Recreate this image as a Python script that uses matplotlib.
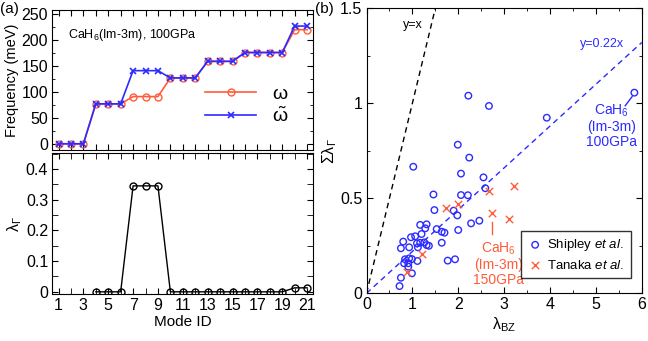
import matplotlib
matplotlib.use("Agg")
import matplotlib.pyplot as plt
from matplotlib.ticker import MultipleLocator, FixedLocator, NullFormatter

plt.rcParams['font.family'] = ['Liberation Sans', 'DejaVu Sans']
plt.rcParams['mathtext.fontset'] = 'custom'
plt.rcParams['mathtext.rm'] = 'Liberation Sans'
plt.rcParams['mathtext.it'] = 'Liberation Sans:italic'
plt.rcParams['mathtext.default'] = 'rm'

RED = '#ff5c3a'
BLUE = '#2b2bff'

# panel (a)
mode_id = list(range(1, 22))
omega = [0, 0, 0, 77, 77, 77, 91, 91, 91, 127, 127, 127, 159, 159, 159, 176, 176, 176, 176, 220, 220]
omega_t = [0, 0, 0, 77, 77, 77, 141, 141, 141, 127, 127, 127, 159, 159, 159, 176, 176, 176, 176, 227, 227]
lam_mode = list(range(4, 22))
lam_gamma = [0, 0, 0, 0.345, 0.345, 0.345, 0, 0, 0, 0, 0, 0, 0, 0, 0, 0, 0.013, 0.013]

# panel (b)
shipley_x = [1.02, 2.06, 2.55, 1.46, 2.06, 2.21, 2.59, 1.48, 1.90, 1.98,
             1.17, 1.31, 1.28, 1.53, 1.64, 1.70, 2.00, 2.28, 2.46, 1.20,
             1.06, 0.97, 0.80, 1.17, 1.10, 1.26, 1.31, 1.36, 1.64, 0.75,
             0.93, 1.12, 0.84, 0.93, 0.99, 1.11, 0.82, 0.91, 0.91, 0.99,
             0.75, 0.72, 1.77, 1.93, 2.22, 2.67, 3.93, 5.84, 1.99, 2.24]
shipley_y = [0.666, 0.630, 0.610, 0.520, 0.517, 0.516, 0.553, 0.438, 0.435, 0.410,
             0.360, 0.363, 0.342, 0.338, 0.324, 0.319, 0.333, 0.368, 0.382, 0.312,
             0.300, 0.295, 0.272, 0.266, 0.263, 0.268, 0.254, 0.250, 0.266, 0.237,
             0.242, 0.242, 0.179, 0.184, 0.180, 0.170, 0.158, 0.158, 0.140, 0.105,
             0.082, 0.038, 0.172, 0.179, 1.040, 0.986, 0.924, 1.056, 0.782, 0.714]
tanaka_x = [0.89, 1.21, 1.74, 2.00, 2.68, 3.21, 2.73, 3.10]
tanaka_y = [0.110, 0.207, 0.447, 0.470, 0.538, 0.565, 0.421, 0.389]
slope = 0.22

FS = 11.5

fig = plt.figure(figsize=(6.48, 3.41), dpi=100)
ax1 = fig.add_axes([0.0807, 0.5601, 0.4028, 0.4106])
ax2 = fig.add_axes([0.0807, 0.1370, 0.4028, 0.4134])
ax3 = fig.add_axes([0.5656, 0.1399, 0.4247, 0.8358])

for ax in (ax1, ax2, ax3):
    ax.tick_params(which='both', direction='in', top=True, right=True, labelsize=FS, pad=3)
    ax.tick_params(which='major', length=4)
    ax.tick_params(which='minor', length=2.5)

ax1.plot(mode_id, omega, '-o', color=RED, ms=5, mfc='none', mew=1, lw=1.2, label=r'$\omega$')
ax1.plot(mode_id, omega_t, '-x', color=BLUE, ms=5, mew=1.2, lw=1.2, label=r'$\tilde{\omega}$')
ax1.set_xlim(0.5, 21.5)
ax1.set_ylim(-12, 258)
ax1.xaxis.set_major_locator(MultipleLocator(1))
ax1.xaxis.set_major_formatter(NullFormatter())
ax1.yaxis.set_major_locator(MultipleLocator(50))
ax1.yaxis.set_minor_locator(MultipleLocator(25))
ax1.set_ylabel('Frequency (meV)', fontsize=10.5, labelpad=2)
ax1.text(0.06, 0.80, r'CaH$_6$(Im-3m), 100GPa', transform=ax1.transAxes, fontsize=9)
ax1.legend(loc='lower right', bbox_to_anchor=(0.97, 0.05), frameon=False, fontsize=14,
           handlelength=2.6, handletextpad=0.8, labelspacing=0.15)

ax2.plot(lam_mode, lam_gamma, '-o', color='black', ms=5, mfc='none', mew=1, lw=1)
ax2.set_xlim(0.5, 21.5)
ax2.set_ylim(-0.008, 0.451)
ax2.xaxis.set_major_locator(FixedLocator(list(range(1, 22, 2))))
ax2.xaxis.set_minor_locator(FixedLocator(list(range(2, 22, 2))))
ax2.tick_params(which='minor', length=4)
ax2.yaxis.set_major_locator(MultipleLocator(0.1))
ax2.yaxis.set_minor_locator(MultipleLocator(0.05))
ax2.yaxis.set_major_formatter(plt.FuncFormatter(lambda v, p: '0' if abs(v) < 1e-9 else f'{v:.1f}'))
ax2.set_xlabel('Mode ID', fontsize=11, labelpad=1)
ax2.set_ylabel(r'$\lambda_\Gamma$', fontsize=FS, labelpad=1)

ax3.plot([0, 1.5], [0, 1.5], '--', color='black', lw=1, dashes=(4, 3))
ax3.plot([0, 6], [0, 6 * slope], '--', color=BLUE, lw=1, dashes=(4, 3))
ax3.scatter(shipley_x, shipley_y, s=22, facecolors='none', edgecolors=BLUE, linewidths=1,
            label=r'Shipley $\mathit{et\ al.}$', zorder=3)
ax3.scatter(tanaka_x, tanaka_y, s=28, marker='x', color=RED, linewidths=1,
            label=r'Tanaka $\mathit{et\ al.}$', zorder=3)
ax3.set_xlim(0, 6)
ax3.set_ylim(0, 1.5)
ax3.xaxis.set_major_locator(MultipleLocator(1))
ax3.xaxis.set_minor_locator(MultipleLocator(0.5))
ax3.yaxis.set_major_locator(MultipleLocator(0.5))
ax3.yaxis.set_minor_locator(MultipleLocator(0.25))
ax3.yaxis.set_major_formatter(plt.FuncFormatter(lambda v, p: f'{v:g}'))
ax3.set_xlabel(r'$\lambda_{BZ}$', fontsize=FS, labelpad=2)
ax3.set_ylabel(r'$\Sigma\lambda_\Gamma$', fontsize=FS, labelpad=1)
ax3.text(1.02, 1.41, 'y=x', fontsize=9, ha='center', va='center')
ax3.text(5.14, 1.31, 'y=0.22x', fontsize=9, ha='center', va='center', color=BLUE)
ax3.text(5.35, 0.88, 'CaH$_6$\n(Im-3m)\n100GPa', fontsize=10, ha='center', va='center',
         color=BLUE, linespacing=1.1)
ax3.plot([5.64, 5.79], [0.987, 1.035], color=BLUE, lw=1)
ax3.text(2.87, 0.155, 'CaH$_6$\n(Im-3m)\n150GPa', fontsize=10, ha='center', va='center',
         color=RED, linespacing=1.1)
ax3.plot([2.73, 2.73], [0.312, 0.377], color=RED, lw=1)
leg = ax3.legend(loc='lower right', bbox_to_anchor=(0.985, 0.03), fontsize=9.5, fancybox=False,
                 edgecolor='black', handletextpad=0.3, borderpad=0.5, labelspacing=0.4,
                 handlelength=1.2)
leg.get_frame().set_linewidth(1)

fig.text(0.0, 0.995, '(a)', fontsize=11, va='top')
fig.text(0.486, 0.995, '(b)', fontsize=11, va='top')

fig.savefig('out.png', dpi=100)
